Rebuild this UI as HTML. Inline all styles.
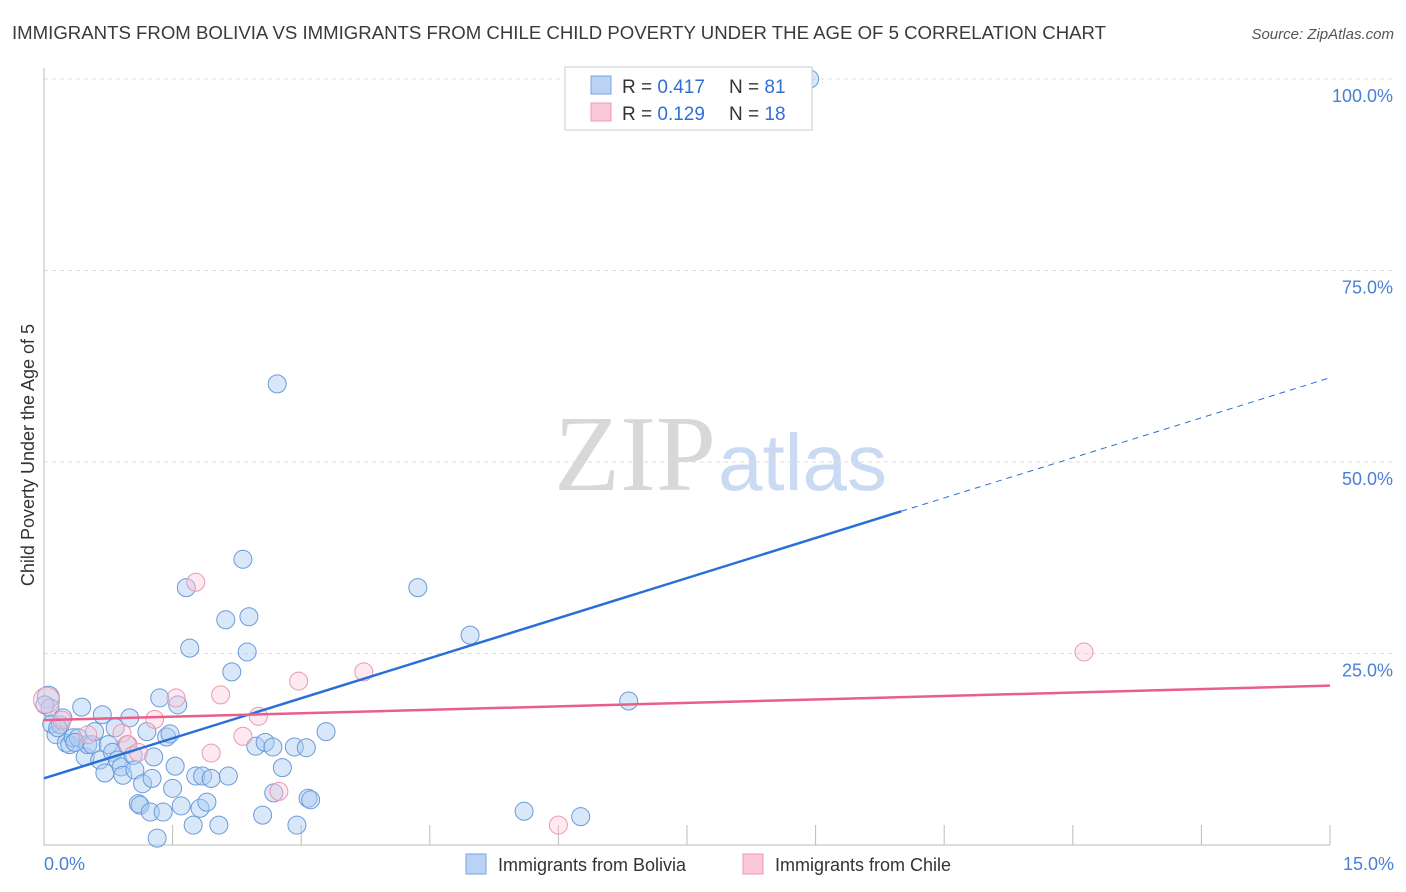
<!DOCTYPE html>
<html><head><meta charset="utf-8"><style>
body{margin:0;background:#fff;font-family:"Liberation Sans",sans-serif}
svg{display:block}
</style></head><body>
<svg width="1406" height="892">
<text x="12" y="39" font-size="18" fill="#3a3a3a" textLength="1094" lengthAdjust="spacingAndGlyphs">IMMIGRANTS FROM BOLIVIA VS IMMIGRANTS FROM CHILE CHILD POVERTY UNDER THE AGE OF 5 CORRELATION CHART</text>
<text x="1394" y="39" font-size="15" font-style="italic" fill="#555" text-anchor="end">Source: ZipAtlas.com</text>
<text x="716" y="490" font-size="108" font-family="Liberation Serif" fill="#d8d8d8" text-anchor="end">ZIP</text>
<text x="718" y="490" font-size="80" fill="#c9daf2">atlas</text>
<g id="grid"></g>
<line x1="44" y1="68" x2="44" y2="845" stroke="#bbb"/>
<line x1="44" y1="845" x2="1330" y2="845" stroke="#bbb"/>
<g id="xticks"></g>
<text transform="translate(34,455) rotate(-90)" font-size="18" fill="#333" text-anchor="middle">Child Poverty Under the Age of 5</text>
<text x="44" y="870" font-size="18" fill="#4a7fd4">0.0%</text>
<text x="1394" y="870" font-size="18" fill="#4a7fd4" text-anchor="end">15.0%</text>
<g id="pts"></g>
<g id="trends"></g>
<g>
<rect x="565" y="67" width="247" height="63" fill="#fff" stroke="#ccc"/>
<rect x="591" y="76" width="20" height="18" fill="#b9d2f5" stroke="#7aa5e0"/>
<rect x="591" y="103" width="20" height="18" fill="#fac8d6" stroke="#ee9ab2"/>
<text x="622" y="93" font-size="19" fill="#333">R = <tspan fill="#2f6fd6">0.417</tspan></text>
<text x="729" y="93" font-size="19" fill="#333">N = <tspan fill="#2f6fd6">81</tspan></text>
<text x="622" y="120" font-size="19" fill="#333">R = <tspan fill="#2f6fd6">0.129</tspan></text>
<text x="729" y="120" font-size="19" fill="#333">N = <tspan fill="#2f6fd6">18</tspan></text>
</g>
<g><rect x="466" y="854" width="20" height="20" fill="#b9d2f5" stroke="#7aa5e0"/><text x="498" y="871" font-size="18" fill="#333">Immigrants from Bolivia</text></g>
<g><rect x="743" y="854" width="20" height="20" fill="#fac8d6" stroke="#ee9ab2"/><text x="775" y="871" font-size="18" fill="#333">Immigrants from Chile</text></g>
</svg>
<script>
const yTicks=[25,50,75,100];
const yTickLabels=["25.0%","50.0%","75.0%","100.0%"];
const xTicks=[1.5,3,4.5,6,7.5,9,10.5,12,13.5,15];
const boliviaX=[0.05,0.07,0.09,0.14,0.19,0.22,0.26,0.30,0.34,0.40,0.44,0.48,0.51,0.56,0.59,0.65,0.68,0.71,0.75,0.80,0.83,0.86,0.90,0.92,0.97,1.00,1.04,1.06,1.10,1.12,1.15,1.20,1.24,1.26,1.28,1.32,1.35,1.39,1.43,1.47,1.50,1.53,1.56,1.60,1.66,1.70,1.74,1.77,1.82,1.85,1.90,1.95,2.04,2.12,2.15,2.19,2.32,2.37,2.39,2.47,2.55,2.58,2.67,2.68,2.72,2.78,2.92,2.95,3.06,3.08,3.11,3.29,4.36,4.97,5.60,6.26,6.82,8.93,0.01,0.16,0.36];
const boliviaY=[19.3,17.9,15.8,14.4,15.7,16.6,13.3,13.1,14.0,14.0,18.0,11.5,13.1,13.1,14.8,11.1,17.0,9.4,13.1,12.1,15.3,11.1,10.2,9.1,13.1,16.6,11.7,9.8,5.4,5.2,8.0,14.8,4.3,8.7,11.5,0.9,19.2,4.3,14.1,14.5,7.4,10.3,18.3,5.1,33.6,25.7,2.6,9.0,4.8,9.0,5.6,8.7,2.6,29.4,9.0,22.6,37.3,25.2,29.8,12.9,3.9,13.4,12.8,6.8,60.2,10.1,12.8,2.6,12.7,6.1,5.9,14.8,33.6,27.4,4.4,3.7,18.8,100.0,18.3,15.3,13.4];
const chileX=[0.03,0.21,0.51,0.91,0.98,1.10,1.29,1.54,1.77,1.95,2.06,2.32,2.50,2.97,2.74,3.73,6.00,12.13];
const chileY=[18.9,16.3,14.4,14.6,13.1,12.1,16.4,19.2,34.3,12.0,19.6,14.2,16.8,21.4,7.0,22.6,2.6,25.2];
const boliviaTrend=[8.7,61.0];
const chileTrend=[16.3,20.8];
const boliviaSolidEnd=10.0;

const NS="http://www.w3.org/2000/svg";
const X=v=>44+v/15*1286;
const Y=v=>845-v/100*766;
function mk(tag,attrs,parent){const e=document.createElementNS(NS,tag);for(const k in attrs)e.setAttribute(k,attrs[k]);parent.appendChild(e);return e;}
const grid=document.getElementById('grid');
yTicks.forEach((t,i)=>{
  const l=mk('line',{x1:44,x2:1394,y1:Y(t),y2:Y(t),stroke:'#ddd','stroke-dasharray':'4,4'},grid);
  
  
  const tx=mk('text',{x:1393,y:Y(t)+23,'font-size':18,fill:'#4a7fd4','text-anchor':'end'},grid);
  tx.textContent=yTickLabels[i];
  
  
});
const xt=document.getElementById('xticks');
xTicks.forEach(t=>{
  const l=mk('line',{x1:X(t),x2:X(t),y1:825,y2:845,stroke:'#bbb'},xt);
  
  
});
const pts=document.getElementById('pts');
boliviaX.forEach((x,i)=>{
  const c=mk('circle',{cx:X(x),cy:Y(boliviaY[i]),r:(i===0?11:9),fill:'rgba(170,203,242,0.45)',stroke:'#6a9ada','stroke-width':1},pts);
  
  
});
chileX.forEach((x,i)=>{
  const c=mk('circle',{cx:X(x),cy:Y(chileY[i]),r:(i===0?13:9),fill:'rgba(250,200,214,0.4)',stroke:'#eb98b0','stroke-width':1},pts);
  
  
});
const tr=document.getElementById('trends');
const bAt=x=>boliviaTrend[0]+(boliviaTrend[1]-boliviaTrend[0])*x/15;
let l1=mk('line',{x1:X(0),y1:Y(bAt(0)),x2:X(boliviaSolidEnd),y2:Y(bAt(boliviaSolidEnd)),stroke:'#2a6fd8','stroke-width':2.5},tr);


let l2=mk('line',{x1:X(boliviaSolidEnd),y1:Y(bAt(boliviaSolidEnd)),x2:X(15),y2:Y(bAt(15)),stroke:'#2a6fd8','stroke-width':1,'stroke-dasharray':'6,5'},tr);


let l3=mk('line',{x1:X(0),y1:Y(chileTrend[0]),x2:X(15),y2:Y(chileTrend[1]),stroke:'#e8608a','stroke-width':2.5},tr);


</script>
</body></html>
